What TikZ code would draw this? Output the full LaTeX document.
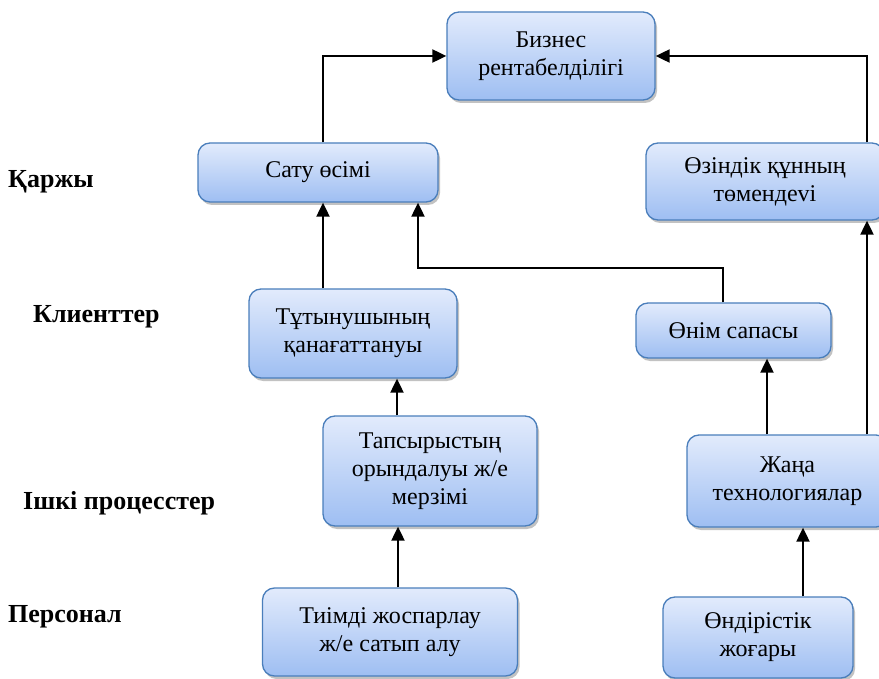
\documentclass[tikz,border=0pt]{standalone}
\usepackage{fontspec}
\setmainfont{Liberation Serif}
\usepackage{tikz}
\usetikzlibrary{arrows.meta,shadows}
\definecolor{bscTop}{RGB}{226,235,252}
\definecolor{bscBot}{RGB}{158,190,242}
\definecolor{bscLine}{RGB}{74,126,187}
\tikzset{
 bsc box/.style={rectangle,rounded corners=12pt,draw=bscLine,line width=1.3pt,
                 top color=bscTop,bottom color=bscBot,inner sep=0pt,align=center,
                 font=\fontsize{24}{28}\selectfont,
                 drop shadow={shadow xshift=2pt,shadow yshift=-3pt,fill=black!40,opacity=.6}},
 bsc arrow/.style={line width=2pt,-{Triangle[length=14pt,width=13pt]}},
 bsc layer/.style={anchor=west,font=\fontsize{26}{30}\selectfont\bfseries,inner sep=0pt}
}
\begin{document}
\begin{tikzpicture}[x=1pt,y=-1pt]
 \useasboundingbox (0,0) rectangle (879,679);

 \node[bsc box,minimum width=208pt,minimum height=88pt] (biz) at (551,56) {Бизнес\\рентабелділігі};
 \node[bsc box,minimum width=240pt,minimum height=59pt] (satu) at (318,172.5) {Сату өсімі};
 \node[bsc box,minimum width=238pt,minimum height=77pt] (ozin) at (765,181.5) {Өзіндік құнның\\төмендеvі};
 \node[bsc box,minimum width=208pt,minimum height=89pt] (tutyn) at (353,333.5) {Тұтынушының\\қанағаттануы};
 \node[bsc box,minimum width=195pt,minimum height=55pt] (onim) at (733.5,330.5) {Өнім сапасы};
 \node[bsc box,minimum width=214pt,minimum height=110pt] (taps) at (430,471) {Тапсырыстың\\орындалуы ж/е\\мерзімі};
 \node[bsc box,minimum width=201pt,minimum height=92pt] (zhana) at (787.5,481) {Жаңа\\технологиялар};
 \node[bsc box,minimum width=255pt,minimum height=88pt] (tiimdi) at (390,632) {Тиімді жоспарлау\\ж/е сатып алу};
 \node[bsc box,minimum width=190pt,minimum height=81pt] (ondir) at (758,637.5) {Өндірістік\\жоғары};

 \node[bsc layer] (qarzhy) at (8,182) {Қаржы};
 \node[bsc layer] (klient) at (33,317) {Клиенттер};
 \node[bsc layer] (ishki) at (23,503) {Ішкі процесстер};
 \node[bsc layer] (pers) at (8,617) {Персонал};

 \draw[bsc arrow] ([xshift=5pt]satu.north) |- (biz.west);
 \draw[bsc arrow] ([xshift=102pt]ozin.north) |- (biz.east);
 \draw[bsc arrow] ([xshift=-30pt]tutyn.north) -- ([xshift=5pt]satu.south);
 \draw[bsc arrow] ([xshift=-10.5pt]onim.north) -- ++(0,-34) -| ([xshift=100pt]satu.south);
 \draw[bsc arrow] ([xshift=-33pt]taps.north) -- ([xshift=44pt]tutyn.south);
 \draw[bsc arrow] ([xshift=8pt]tiimdi.north) -- ([xshift=-32pt]taps.south);
 \draw[bsc arrow] ([xshift=-20.5pt]zhana.north) -- ([xshift=33.5pt]onim.south);
 \draw[bsc arrow] ([xshift=79.5pt]zhana.north) -- ([xshift=102pt]ozin.south);
 \draw[bsc arrow] ([xshift=45pt]ondir.north) -- ([xshift=15.5pt]zhana.south);
\end{tikzpicture}
\end{document}
